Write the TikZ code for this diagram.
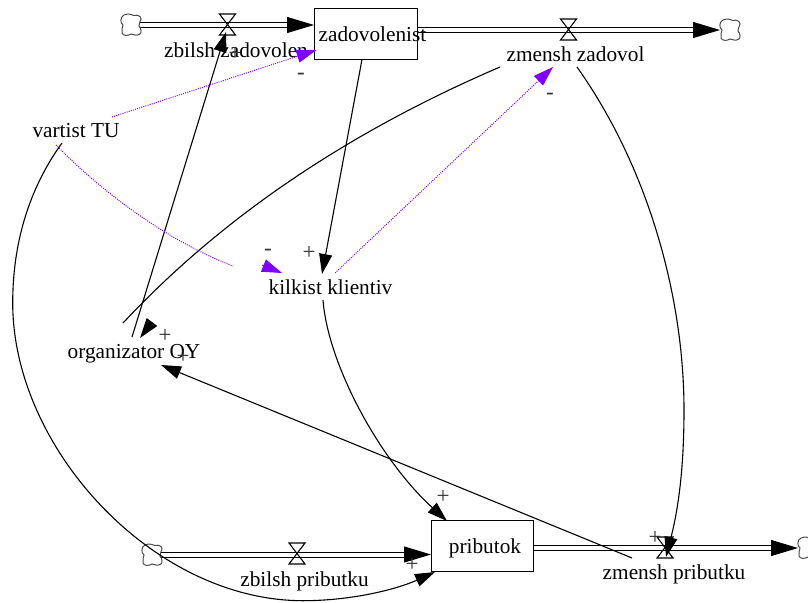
\documentclass[tikz,border=0pt]{standalone}
\usepackage{fontspec}
\setmainfont{Liberation Serif}
\usetikzlibrary{arrows.meta,calc}
\definecolor{linkpurple}{RGB}{128,0,255}
\tikzset{
	varname/.style={inner sep=0pt, font=\fontsize{21.3}{21.3}\selectfont, text height=14pt, text depth=5pt},
	signmark/.style={inner sep=0pt, color=black!80, font=\fontsize{23}{23}\selectfont},
	stockbox/.style={draw, line width=1pt, fill=white, minimum width=103pt, minimum height=51pt, inner sep=0pt},
	pipe/.style={double, double distance=4pt, line width=1pt, -{Triangle[length=27pt, width=16pt]}},
	link/.style={line width=1.1pt, -{Triangle[length=20pt, width=13pt]}},
	softlink/.style={line width=1pt, color=linkpurple, dash pattern=on 1pt off 1.2pt, -{Triangle[length=20pt, width=13pt]}},
}
\def\cloudmark(#1){\draw[line width=1pt, color=black!70, fill=white, shift={(#1)}] (-7,-10) .. controls (-3,-11.5) and (0,-11) .. (3,-9.5) .. controls (6,-10.5) and (10,-9) .. (10,-6) .. controls (9,-3) and (8,-1) .. (8,1) .. controls (10,3) and (11,8) .. (9,9) .. controls (6,11) and (3,10) .. (0,9) .. controls (-3,11) and (-8,11) .. (-9,8) .. controls (-10,5) and (-8,2) .. (-8,0) .. controls (-11,-2) and (-11,-8) .. (-7,-10) -- cycle;}
\def\valvemark(#1){\draw[line width=1.1pt, shift={(#1)}] (-8,-10.5) -- (8,-10.5) -- (-8,10.5) -- (8,10.5) -- cycle;}

\begin{document}
\begin{tikzpicture}[x=1pt, y=-1pt]
			%%%%% START %%%%%
			\useasboundingbox (0, 0) rectangle (808, 602);
			
			\coordinate (cloudA) at (131, 25);
			\coordinate (cloudB) at (730, 30);
			\coordinate (cloudC) at (152, 555);
			\coordinate (cloudD) at (808, 548);
			\coordinate (valveA) at (227.5, 24.5);
			\coordinate (valveB) at (568.5, 29.5);
			\coordinate (valveC) at (297, 553.5);
			\coordinate (valveD) at (665, 547.5);
			
			\node[stockbox] (boxZadov) at (366, 34) {};
			\node[stockbox, minimum width=102pt] (boxPrib) at (482.5, 546) {};
			
			\draw[pipe] (cloudA) -- ($(boxZadov.west)+(0, -9)$);
			\draw[pipe] ($(boxZadov.east)+(0, -4)$) -- ($(cloudB)+(-10, 0)$);
			\draw[pipe] ($(cloudC)+(0, -0.5)$) -- ($(boxPrib.west)+(0, 8.5)$);
			\draw[pipe] ($(boxPrib.east)+(0, 2)$) -- ($(cloudD)+(-10, 0)$);
			
			\cloudmark(cloudA);
			\cloudmark(cloudB);
			\cloudmark(cloudC);
			\cloudmark(cloudD);
			\valvemark(valveA);
			\valvemark(valveB);
			\valvemark(valveC);
			\valvemark(valveD);
			
			\node[varname] (zadovolenist) at (372.5, 37) {zadovolenist};
			\node[varname] (zbilshZadov) at (236, 52.5) {zbilsh zadovolen};
			\node[varname] (zmenshZadov) at (575.5, 57) {zmensh zadovol};
			\node[varname] (vartist) at (76, 133) {vartist TU};
			\node[varname] (kilkist) at (330.5, 289.5) {kilkist klientiv};
			\node[varname] (organizator) at (134, 354) {organizator OY};
			\node[varname] (pributok) at (485, 549) {pributok};
			\node[varname] (zbilshPrib) at (304.5, 582) {zbilsh pributku};
			\node[varname] (zmenshPrib) at (674, 575) {zmensh pributku};
			
			\draw[link] ($(organizator)+(-2, -17)$) -- ($(valveA)+(-1.5, 7.5)$);
			\draw[link] ($(boxZadov)+(-4, 25.5)$) -- ($(kilkist)+(-8.5, -15.5)$);
			\draw[link] ($(zmenshPrib)+(-42, -17)$) -- ($(organizator)+(27, 11)$);
			\draw[link] ($(kilkist)+(-7.5, 10.5)$) .. controls (328, 365) and (380, 460) .. ($(boxPrib)+(-35.5, -25)$);
			\draw[link] ($(zmenshZadov)+(1.5, 10)$) .. controls (650, 170) and (684, 300) .. (684, 410) .. controls (684, 470) and (678, 510) .. ($(valveD)+(1, 9.5)$);
			\draw[link] ($(vartist)+(-14, 10)$) .. controls (28, 190) and (12.7, 245) .. (12.7, 303) .. controls (12.7, 448) and (153, 600.7) .. (303, 600.7) .. controls (350, 600.7) and (395, 590) .. ($(boxPrib)+(-47.5, 26)$);
			
			% line and head are apart in the picture
			\draw[line width=1.1pt] ($(zmenshZadov)+(-75.5, 10)$) .. controls (330, 140) and (210, 230) .. ($(organizator)+(-11, -31)$);
			\draw[link] ($(organizator)+(18, -32)$) -- ($(organizator)+(6, -16)$);
			
			\draw[softlink] ($(vartist)+(36, -16)$) -- ($(boxZadov)+(-49.5, 16)$);
			\draw[softlink] ($(kilkist)+(4.5, -16.5)$) -- ($(zmenshZadov)+(-22.5, 10)$);
			\draw[softlink, -] ($(vartist)+(-20, 12)$) .. controls (100, 190) and (165, 240) .. ($(kilkist)+(-97.5, -23.5)$);
			\draw[softlink, dash pattern=] ($(kilkist)+(-68.5, -24.5)$) -- ($(kilkist)+(-48.5, -16.5)$);
			
			\node[signmark] (signA) at (235, 54) {+};
			\node[signmark] (signB) at (301, 76) {-};
			\node[signmark] (signC) at (550, 96) {-};
			\node[signmark] (signD) at (309, 253) {+};
			\node[signmark] (signE) at (268, 252) {-};
			\node[signmark] (signF) at (165, 336) {+};
			\node[signmark] (signG) at (183, 357) {+};
			\node[signmark] (signH) at (443, 497) {+};
			\node[signmark] (signI) at (412, 565) {+};
			\node[signmark] (signJ) at (655, 538) {+};
			
			%%%%% END %%%%%
\end{tikzpicture}
\end{document}
